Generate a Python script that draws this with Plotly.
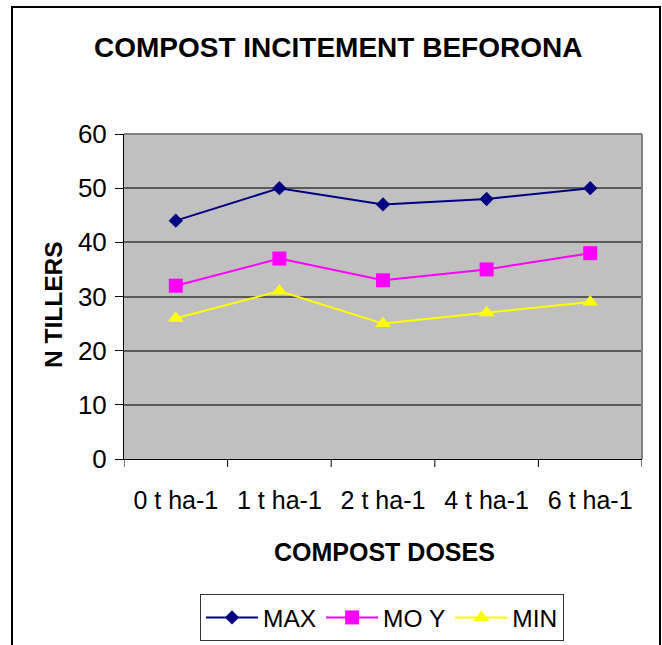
import plotly.graph_objects as go

categories = ["0 t ha-1", "1 t ha-1", "2 t ha-1", "4 t ha-1", "6 t ha-1"]
max_vals = [44, 50, 47, 48, 50]
moy_vals = [32, 37, 33, 35, 38]
min_vals = [26, 31, 25, 27, 29]
y_ticks = [0, 10, 20, 30, 40, 50, 60]

FONT = "Liberation Sans, Arial, sans-serif"

W, H = 662, 645
L, R, T, B = 124, 642, 134, 459
pw, ph = R - L, B - T

def px_x(x):
    return (x - L) / pw

def px_y(y):
    return (B - y) / ph

fig = go.Figure()
series = [
    ("MAX", max_vals, "#000080", "diamond", 11),
    ("MO Y", moy_vals, "#FF00FF", "square", 14),
    ("MIN", min_vals, "#FFFF00", "triangle-up", 14),
]
for name, vals, col, sym, sz in series:
    fig.add_trace(go.Scatter(
        x=list(range(len(categories))), y=vals, name=name, mode="lines+markers",
        line=dict(color=col, width=2),
        marker=dict(symbol=sym, size=sz, color=col, line=dict(width=0)),
    ))

fig.update_layout(
    width=W, height=H,
    margin=dict(l=L, r=W - R, t=T, b=H - B, autoexpand=False),
    paper_bgcolor="white", plot_bgcolor="#C0C0C0",
    font=dict(family=FONT, color="black", size=26),
    showlegend=True,
    legend=dict(orientation="h", x=px_x(200), xanchor="left", y=px_y(594), yanchor="top",
                bordercolor="#333333", borderwidth=1, bgcolor="white",
                font=dict(size=24.5, family=FONT), itemwidth=52, tracegroupgap=0),
    xaxis=dict(
        range=[-0.5, len(categories) - 0.5], tickmode="array",
        tickvals=list(range(len(categories))), ticktext=categories,
        showgrid=False, zeroline=False, showline=True, linecolor="black", linewidth=1,
        ticks="", tickfont=dict(size=25, family=FONT), automargin=False,
        ticklabelstandoff=19,
    ),
    yaxis=dict(
        range=[0, 60], tickmode="array", tickvals=y_ticks,
        showgrid=True, gridcolor="#5A5A5A", gridwidth=1.5, zeroline=False,
        showline=True, linecolor="black", linewidth=1,
        ticks="outside", ticklen=8, tickcolor="black", tickfont=dict(size=26, family=FONT),
        automargin=False, ticklabelstandoff=3,
    ),
    annotations=[
        dict(text="<b>COMPOST INCITEMENT BEFORONA</b>", xref="paper", yref="paper",
             x=px_x(338), y=px_y(48), xanchor="center", yanchor="middle",
             showarrow=False, font=dict(size=28, family=FONT)),
        dict(text="<b>COMPOST DOSES</b>", xref="paper", yref="paper",
             x=px_x(384), y=px_y(552), xanchor="center", yanchor="middle",
             showarrow=False, font=dict(size=25, family=FONT)),
        dict(text="<b>N TILLERS</b>", xref="paper", yref="paper",
             x=px_x(53), y=px_y(305), xanchor="center", yanchor="middle", textangle=-90,
             showarrow=False, font=dict(size=24.5, family=FONT)),
    ],
)

shapes = []
# category boundary tick marks on x axis
for i in range(len(categories) + 1):
    shapes.append(dict(type="line", xref="x", yref="paper", x0=i - 0.5, x1=i - 0.5,
                       y0=0, y1=-8 / ph, line=dict(color="black", width=1)))
# plot area top/right border
shapes.append(dict(type="line", xref="paper", yref="paper", x0=0, x1=1, y0=1, y1=1,
                   line=dict(color="#808080", width=2)))
shapes.append(dict(type="line", xref="paper", yref="paper", x0=1, x1=1, y0=0, y1=1,
                   line=dict(color="#808080", width=2)))
# outer chart border
shapes.append(dict(type="rect", xref="paper", yref="paper",
                   x0=px_x(12), x1=px_x(660), y0=px_y(660), y1=px_y(7),
                   line=dict(color="black", width=2), fillcolor="rgba(0,0,0,0)", layer="below"))
fig.update_layout(shapes=shapes)

fig.write_html("out.html", config={"displayModeBar": False},
               post_script="document.body.style.margin='0px';document.body.style.overflow='hidden';")
